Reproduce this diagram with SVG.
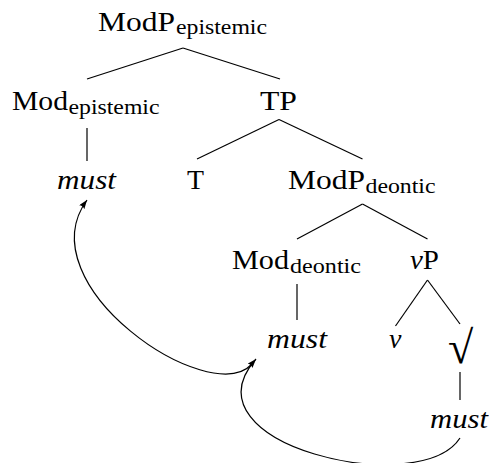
<svg xmlns="http://www.w3.org/2000/svg" width="489" height="463" viewBox="0 0 489 463">
<style>
text{font-family:"Liberation Serif","Times New Roman","DejaVu Serif",serif;fill:#000}
.t{font-size:28px}
.s{font-size:21px}
.i{font-style:italic}
.r{font-size:46px}
.e{stroke:#000;stroke-width:1.2;fill:none}
.a{stroke:#000;stroke-width:1.2;fill:none;marker-end:url(#ah)}
</style>
<defs>
<marker id="ah" markerUnits="userSpaceOnUse" markerWidth="10" markerHeight="8" refX="9" refY="3.25" orient="auto">
<path d="M0,0 L9,3.25 L0,6.5 Q2,3.25 0,0 z" fill="#000"/>
</marker>
</defs>
<g id="connectors">
<line class="e" x1="183" y1="48" x2="87" y2="79"/>
<line class="e" x1="183" y1="48" x2="280" y2="79"/>
<line class="e" x1="87" y1="128" x2="87" y2="161"/>
<line class="e" x1="279" y1="119.5" x2="197" y2="159"/>
<line class="e" x1="279" y1="119.5" x2="362.5" y2="159"/>
<line class="e" x1="362.5" y1="204" x2="297" y2="239"/>
<line class="e" x1="362.5" y1="204" x2="427.5" y2="239"/>
<line class="e" x1="297" y1="284" x2="297" y2="320"/>
<line class="e" x1="427.5" y1="280" x2="395.5" y2="326"/>
<line class="e" x1="427.5" y1="280" x2="460" y2="324"/>
<line class="e" x1="460" y1="372" x2="460" y2="400"/>
<path class="a" d="M460,438 C420,500 180,445 256,359"/>
<path class="a" d="M252,364 C210,410 25,285 87,200"/>
</g>
<g id="modp-epistemic">
<text class="t" x="98" y="30.5" textLength="77" lengthAdjust="spacingAndGlyphs">ModP</text>
<text class="s" x="176" y="34" textLength="91" lengthAdjust="spacingAndGlyphs">epistemic</text>
</g>
<g id="mod-epistemic">
<text class="t" x="12" y="110" textLength="56" lengthAdjust="spacingAndGlyphs">Mod</text>
<text class="s" x="68.5" y="113.5" textLength="91" lengthAdjust="spacingAndGlyphs">epistemic</text>
</g>
<g id="tp">
<text class="t" x="260" y="110" textLength="37" lengthAdjust="spacingAndGlyphs">TP</text>
</g>
<g id="must-epistemic">
<text class="t i" x="57" y="189.3" textLength="59" lengthAdjust="spacingAndGlyphs">must</text>
</g>
<g id="t">
<text class="t" x="187" y="189.3" textLength="17" lengthAdjust="spacingAndGlyphs">T</text>
</g>
<g id="modp-deontic">
<text class="t" x="288" y="189.3" textLength="77" lengthAdjust="spacingAndGlyphs">ModP</text>
<text class="s" x="365.5" y="193" textLength="70" lengthAdjust="spacingAndGlyphs">deontic</text>
</g>
<g id="mod-deontic">
<text class="t" x="232" y="269" textLength="57" lengthAdjust="spacingAndGlyphs">Mod</text>
<text class="s" x="290" y="272.5" textLength="71" lengthAdjust="spacingAndGlyphs">deontic</text>
</g>
<g id="vp">
<text class="t" x="410" y="269" textLength="29" lengthAdjust="spacingAndGlyphs"><tspan class="i">v</tspan>P</text>
</g>
<g id="must-deontic">
<text class="t i" x="267" y="348.3" textLength="60" lengthAdjust="spacingAndGlyphs">must</text>
</g>
<g id="v">
<text class="t i" x="389" y="348.3">v</text>
</g>
<g id="root">
<text class="r" x="460.5" y="362.5" text-anchor="middle">√</text>
</g>
<g id="must-root">
<text class="t i" x="430" y="428.3" textLength="58" lengthAdjust="spacingAndGlyphs">must</text>
</g>
</svg>
